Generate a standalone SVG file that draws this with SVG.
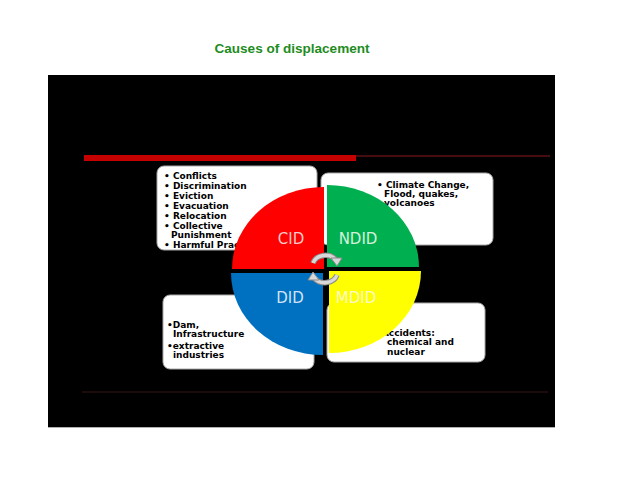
<svg xmlns="http://www.w3.org/2000/svg" width="638" height="479" viewBox="0 0 638 479">
<style>
.box{fill:#ffffff;stroke:#a8a8a8;stroke-width:1}
.bt{font-family:"DejaVu Sans",Verdana,sans-serif;font-weight:bold;font-size:9px;fill:#000}
.ql{font-family:"DejaVu Sans",Verdana,sans-serif;font-size:15px}
.arc{fill:none;stroke:#d8d8d8;stroke-width:3.5}
.arco{fill:none;stroke:#8a8a8a;stroke-width:5.5}
</style>
<rect width="638" height="479" fill="#ffffff"/>
<text x="292" y="53" text-anchor="middle" font-family="'Liberation Sans',Arial,sans-serif" font-weight="bold" font-size="12.5" fill="#1e8c1e" textLength="155" lengthAdjust="spacingAndGlyphs">Causes of displacement</text>
<rect x="48" y="75" width="507" height="352" fill="#000"/>
<line x1="48" y1="427.5" x2="555" y2="427.5" stroke="#b0b0b0" stroke-width="1"/>
<g id="decor">
<rect x="84" y="155" width="272" height="6" fill="#c40000"/>
<line x1="356" y1="156" x2="550" y2="156" stroke="#8a1a22" stroke-width="1"/>
<line x1="82" y1="392" x2="548" y2="392" stroke="#3a1414" stroke-width="1"/>
</g>
<g id="box-cid">
<rect class="box" x="157" y="166" width="160" height="84" rx="7"/>
<text class="bt" x="164" y="179">• Conflicts</text>
<text class="bt" x="164" y="189">• Discrimination</text>
<text class="bt" x="164" y="199">• Eviction</text>
<text class="bt" x="164" y="209">• Evacuation</text>
<text class="bt" x="164" y="219">• Relocation</text>
<text class="bt" x="164" y="229">• Collective</text>
<text class="bt" x="171" y="238">Punishment</text>
<text class="bt" x="164" y="248">•  Harmful Practices</text>
</g>
<g id="box-ndid">
<rect class="box" x="321" y="173" width="172" height="72" rx="7"/>
<text class="bt" x="377" y="188">• Climate Change,</text>
<text class="bt" x="384" y="197">Flood, quakes,</text>
<text class="bt" x="384" y="206">volcanoes</text>
</g>
<g id="box-did">
<rect class="box" x="163" y="295" width="151" height="74" rx="7"/>
<text class="bt" x="167" y="328">•Dam,</text>
<text class="bt" x="173" y="337">Infrastructure</text>
<text class="bt" x="167" y="349">•extractive</text>
<text class="bt" x="173" y="358">industries</text>
</g>
<g id="box-mdid">
<rect class="box" x="327" y="303" width="158" height="59" rx="7"/>
<text class="bt" x="373" y="336">• Accidents:</text>
<text class="bt" x="387" y="345">chemical and</text>
<text class="bt" x="387" y="355">nuclear</text>
</g>
<g id="quadrants">
<path d="M324,269 L232,269 A92,82 0 0 1 324,187 Z" fill="#ff0000"/>
<path d="M327,267 L327,185 A92,82 0 0 1 419,267 Z" fill="#00b050"/>
<path d="M323,273 L323,355 A92,82 0 0 1 231,273 Z" fill="#0070c0"/>
<path d="M329,271 L421,271 A92,82 0 0 1 329,353 Z" fill="#ffff00"/>
<text class="ql" x="291" y="244" text-anchor="middle" fill="#f8c8c8">CID</text>
<text class="ql" x="358" y="244" text-anchor="middle" fill="#d4f0dc">NDID</text>
<text class="ql" x="290" y="303" text-anchor="middle" fill="#cfe3f6">DID</text>
<text class="ql" x="356" y="303" text-anchor="middle" fill="#fbfbc8">MDID</text>
</g>
<g id="connectors">
<path class="arco" d="M313,263 A13,11 0 0 1 336,260"/>
<path class="arc" d="M313,263 A13,11 0 0 1 336,260"/>
<polygon points="331,258 342,258 337,266" fill="#d8d8d8" stroke="#8a8a8a" stroke-width="1"/>
<path class="arco" d="M337,275 A13,11 0 0 1 314,278"/>
<path class="arc" d="M337,275 A13,11 0 0 1 314,278"/>
<polygon points="319,280 308,280 313,272" fill="#d8d8d8" stroke="#8a8a8a" stroke-width="1"/>
</g>
</svg>
